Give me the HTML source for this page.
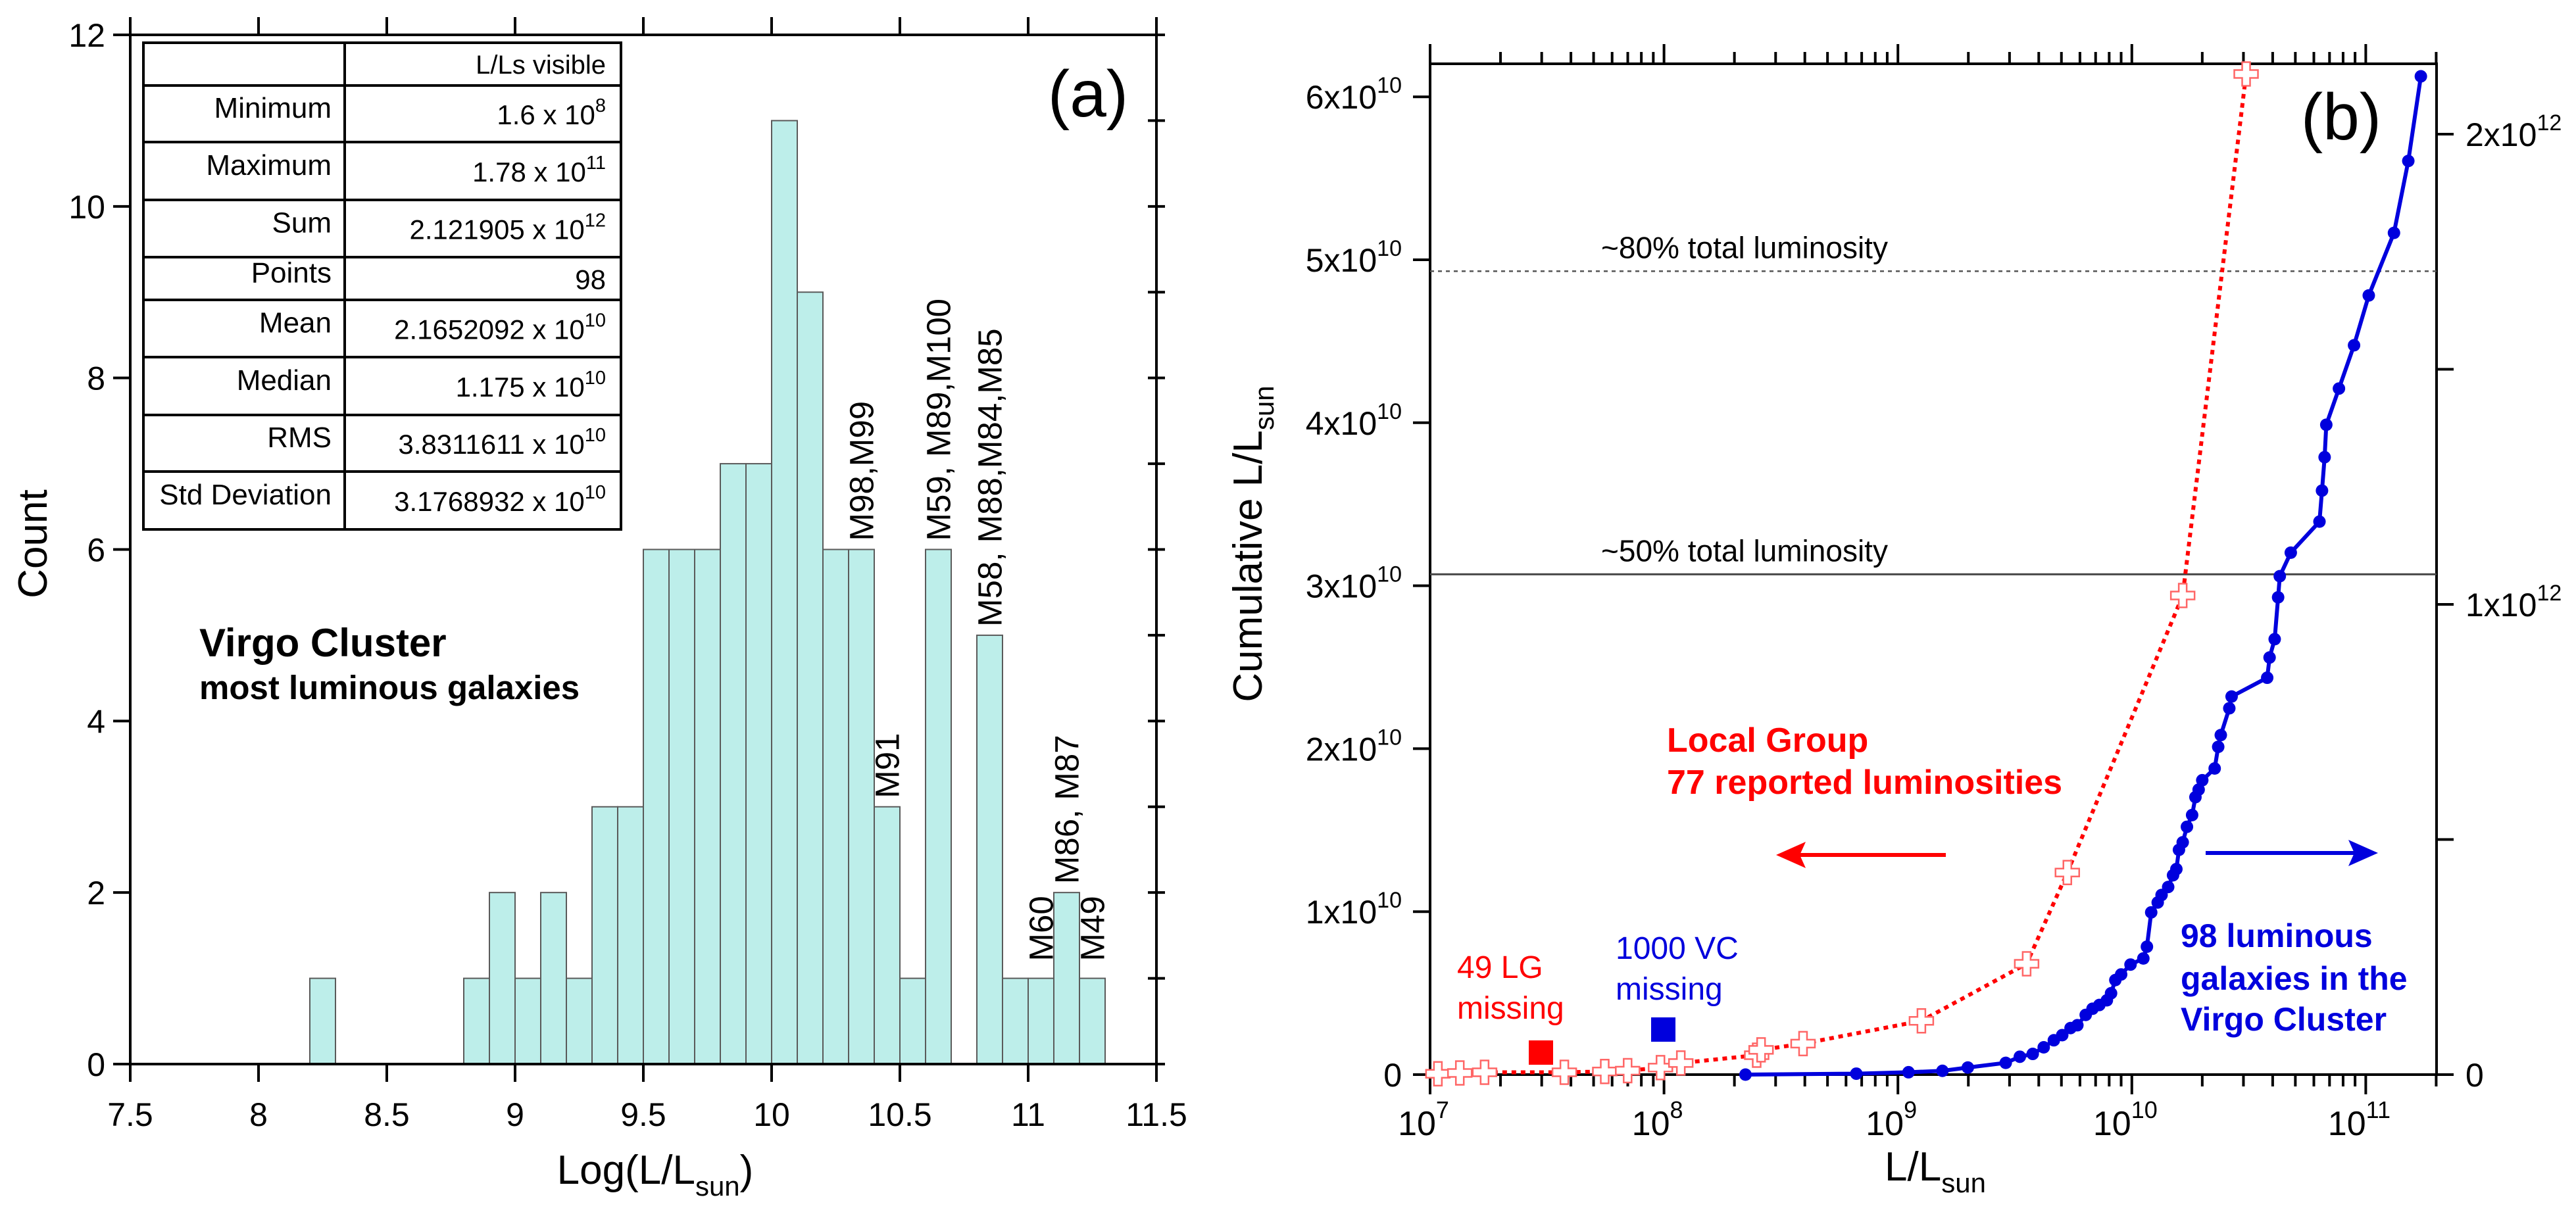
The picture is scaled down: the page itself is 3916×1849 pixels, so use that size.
<!DOCTYPE html>
<html><head><meta charset="utf-8"><style>
html,body{margin:0;padding:0;background:#fff;}
svg{display:block;font-family:"Liberation Sans",Arial,sans-serif;}
</style></head><body>
<svg id="fig" width="3916" height="1849" viewBox="0 0 3916 1849" xmlns="http://www.w3.org/2000/svg">
<g id="pa"></g>
<g id="pb"></g>
</svg>
<script>
// ---- Panel (a) data ----
const binStarts = [8.2,8.8,8.9,9.0,9.1,9.2,9.3,9.4,9.5,9.6,9.7,9.8,9.9,10.0,10.1,10.2,10.3,10.4,10.5,10.6,10.8,10.9,11.0,11.1,11.2];
const binCounts = [1,1,2,1,2,1,3,3,6,6,6,7,7,11,9,6,6,3,1,6,5,1,1,2,1];
const xTicksA = [7.5,8,8.5,9,9.5,10,10.5,11,11.5];
const yTicksA = [0,2,4,6,8,10,12];
const tableLabels = ["Minimum","Maximum","Sum","Points","Mean","Median","RMS","Std Deviation"];
const tableMant = ["1.6 x 10","1.78 x 10","2.121905 x 10","98","2.1652092 x 10","1.175 x 10","3.8311611 x 10","3.1768932 x 10"];
const tableExp = ["8","11","12","","10","10","10","10"];
const galaxyLabels = ["M98,M99","M59, M89,M100","M58, M88,M84,M85","M91","M60","M86, M87","M49"];
const galaxyLabelX = [10.35,10.65,10.85,10.45,11.05,11.15,11.25];
const galaxyLabelY = [6.1,6.1,5.1,3.1,1.2,2.1,1.2];

// ---- Panel (b) data ----
const lgL = [1.08e7,1.34e7,1.71e7,3.75e7,5.58e7,6.99e7,9.66e7,1.18e8,2.49e8,2.6e8,3.93e8,1.26e9,3.55e9,5.3e9,1.65e10,3.08e10];
const lgCum = [0.005,0.01,0.014,0.014,0.019,0.024,0.043,0.071,0.119,0.152,0.19,0.33,0.68,1.24,2.94,6.14]; // x1e10
const vcL = [2.23e8,6.64e8,1.11e9,1.55e9,1.99e9,2.89e9,3.32e9,3.77e9,4.2e9,4.64e9,5.04e9,5.47e9,5.85e9,6.35e9,6.79e9,7.26e9,7.82e9,8.15e9,8.5e9,9.0e9,9.87e9,1.12e10,1.16e10,1.21e10,1.29e10,1.34e10,1.43e10,1.5e10,1.55e10,1.59e10,1.65e10,1.72e10,1.81e10,1.87e10,1.93e10,2.0e10,2.26e10,2.34e10,2.4e10,2.61e10,2.67e10,3.79e10,3.88e10,4.08e10,4.22e10,4.29e10,4.78e10,6.34e10,6.5e10,6.67e10,6.78e10,7.68e10,8.91e10,1.03e11,1.32e11,1.52e11,1.72e11];
const vcCum = [0,0.002,0.005,0.008,0.015,0.025,0.038,0.044,0.058,0.073,0.084,0.099,0.105,0.127,0.14,0.148,0.158,0.173,0.201,0.213,0.234,0.247,0.272,0.345,0.366,0.382,0.399,0.424,0.437,0.478,0.494,0.527,0.552,0.59,0.606,0.626,0.651,0.697,0.722,0.779,0.804,0.844,0.887,0.926,1.015,1.06,1.11,1.176,1.242,1.313,1.382,1.459,1.551,1.657,1.79,1.943,2.123]; // x1e12
const yTicksBL = [0,1,2,3,4,5,6];
const yTicksBR = [0,1,2];
const xDecades = [7,8,9,10,11];
const refLevels = [4.93,3.07]; // x1e10
const refNames = ["~80% total luminosity","~50% total luminosity"];

const NS="http://www.w3.org/2000/svg";
function mk(parent,tag,attrs,text){const e=document.createElementNS(NS,tag);for(const k in attrs)e.setAttribute(k,attrs[k]);if(text!==undefined)e.textContent=text;parent.appendChild(e);return e;}

// ===== Panel A =====
const pa=document.getElementById('pa');
const AX0=198,AX1=1758,AY0=1618,AY1=53;
const ax=v=>AX0+(v-7.5)*(AX1-AX0)/4;
const ay=v=>AY0-v*(AY0-AY1)/12;
binStarts.forEach((b,i)=>{
  const r=mk(pa,'rect',{x:ax(b),y:ay(binCounts[i]),width:ax(b+0.1)-ax(b),height:AY0-ay(binCounts[i]),fill:'#bdeeea',stroke:'#5a5a5a','stroke-width':2});
  
  
});
mk(pa,'rect',{x:AX0,y:AY1,width:AX1-AX0,height:AY0-AY1,fill:'none',stroke:'#000','stroke-width':4,});
xTicksA.forEach(t=>{
  mk(pa,'line',{x1:ax(t),x2:ax(t),y1:AY0,y2:AY0+27,stroke:'#000','stroke-width':4});
  mk(pa,'line',{x1:ax(t),x2:ax(t),y1:AY1,y2:AY1-27,stroke:'#000','stroke-width':4});
  const tl=mk(pa,'text',{x:ax(t),y:1712,'font-size':50,'text-anchor':'middle'},String(t));
  
  
});
for(let v=0;v<=12;v++){
  mk(pa,'line',{x1:AX1-13,x2:AX1+13,y1:ay(v),y2:ay(v),stroke:'#000','stroke-width':4});
}
yTicksA.forEach(t=>{
  mk(pa,'line',{x1:AX0-26,x2:AX0,y1:ay(t),y2:ay(t),stroke:'#000','stroke-width':4});
  const tl=mk(pa,'text',{x:160,y:ay(t)+18,'font-size':50,'text-anchor':'end'},String(t));
  
  
});
// axis titles
const xt=mk(pa,'text',{x:996,y:1800,'font-size':62,'text-anchor':'middle',});
xt.innerHTML='Log(L/L<tspan font-size="42" dy="18">sun</tspan><tspan dy="-18">)</tspan>';
mk(pa,'text',{x:0,y:0,'font-size':62,'text-anchor':'middle',transform:'translate(71,827) rotate(-90)',},'Count');
mk(pa,'text',{x:1654,y:177,'font-size':100,'text-anchor':'middle',},'(a)');
mk(pa,'text',{x:303,y:998,'font-size':60,'font-weight':'bold',},'Virgo Cluster');
mk(pa,'text',{x:303,y:1063,'font-size':51,'font-weight':'bold',},'most luminous galaxies');
galaxyLabels.forEach((g,i)=>{
  const t=mk(pa,'text',{x:0,y:0,'font-size':51,transform:`translate(${ax(galaxyLabelX[i])+18},${ay(galaxyLabelY[i])}) rotate(-90)`},g);
  
  
});
// stats table
const rowsY=[65,130,216,304,391,456,543,631,717,805];
const tb=mk(pa,'g',{});
mk(tb,'rect',{x:218,y:65,width:726,height:740,fill:'#fff',stroke:'#000','stroke-width':4});
mk(tb,'line',{x1:524,x2:524,y1:65,y2:805,stroke:'#000','stroke-width':4});
rowsY.slice(1,-1).forEach(y=>mk(tb,'line',{x1:218,x2:944,y1:y,y2:y,stroke:'#000','stroke-width':4}));
mk(tb,'text',{x:921,y:112,'font-size':40,'text-anchor':'end'},'L/Ls visible');
tableLabels.forEach((l,i)=>{
  const yc=(rowsY[i+1]+rowsY[i+2])/2;
  mk(tb,'text',{x:504,y:yc+6,'font-size':44,'text-anchor':'end'},l);
  const v=mk(tb,'text',{x:921,y:yc+16,'font-size':42,'text-anchor':'end'});
  v.textContent=tableMant[i];
  if(tableExp[i]){mk(v,'tspan',{'font-size':29,dy:-19},tableExp[i]);}
});

// ===== Panel B =====
const pb=document.getElementById('pb');
const BX0=2174,BX1=3704,BY0=1634,BY1=97,DEC=355.6;
const bx=L=>BX0+(Math.log10(L)-7)*DEC;
const byL=v=>BY0-v*247.8;   // v in 1e10
const byR=v=>BY0-v*715;     // v in 1e12
mk(pb,'rect',{x:BX0,y:BY1,width:BX1-BX0,height:BY0-BY1,fill:'none',stroke:'#000','stroke-width':4,});
for(let d=7;d<=11;d++){
  for(let m=1;m<=9;m++){
    const x=bx(m*Math.pow(10,d));
    if(x>BX1+1)continue;
    const len=m===1?30:18;
    mk(pb,'line',{x1:x,x2:x,y1:BY0,y2:BY0+len,stroke:'#000','stroke-width':4});
    mk(pb,'line',{x1:x,x2:x,y1:BY1,y2:BY1-len,stroke:'#000','stroke-width':4});
  }
}
xDecades.forEach(d=>{
  const t=mk(pb,'text',{x:bx(Math.pow(10,d))-10,y:1726,'font-size':52,'text-anchor':'middle'});
  
  
  t.textContent='10';
  mk(t,'tspan',{'font-size':36,dy:-26},String(d));
});
yTicksBL.forEach(v=>{
  mk(pb,'line',{x1:BX0-26,x2:BX0,y1:byL(v),y2:byL(v),stroke:'#000','stroke-width':4});
  const t=mk(pb,'text',{x:2131,y:byL(v)+18,'font-size':50,'text-anchor':'end'});
  
  
  if(v===0){t.textContent='0';}
  else{t.textContent=v+'x10';mk(t,'tspan',{'font-size':34,dy:-24},'10');}
});
for(let v=0;v<=2.0001;v+=0.5){
  mk(pb,'line',{x1:BX1,x2:BX1+26,y1:byR(v),y2:byR(v),stroke:'#000','stroke-width':4});
}
yTicksBR.forEach(v=>{
  const t=mk(pb,'text',{x:3748,y:byR(v)+18,'font-size':50});
  
  
  if(v===0){t.textContent='0';}
  else{t.textContent=v+'x10';mk(t,'tspan',{'font-size':34,dy:-24},'12');}
});
refLevels.forEach((lv,i)=>{
  const ln=mk(pb,'line',{x1:BX0,x2:BX1,y1:byL(lv),y2:byL(lv),stroke:i===0?'#555':'#444','stroke-width':i===0?2.5:3,'stroke-dasharray':i===0?'6 6':'none'});
  
  
  const t=mk(pb,'text',{x:2434,y:byL(lv)-20,'font-size':46},refNames[i]);
  
  
});
const xtb=mk(pb,'text',{x:2942,y:1795,'font-size':62,'text-anchor':'middle',});
xtb.innerHTML='L/L<tspan font-size="42" dy="18">sun</tspan>';
const ytb=mk(pb,'text',{x:0,y:0,'font-size':62,'text-anchor':'middle',transform:'translate(1918,827) rotate(-90)',});
ytb.innerHTML='Cumulative L/L<tspan font-size="42" dy="18">sun</tspan>';
mk(pb,'text',{x:3559,y:212,'font-size':100,'text-anchor':'middle',},'(b)');
const redPts=lgL.map((L,i)=>bx(L)+','+byL(lgCum[i])).join(' ');
mk(pb,'polyline',{points:redPts,fill:'none',stroke:'#f00','stroke-width':6,'stroke-dasharray':'7 7',});
lgL.forEach((L,i)=>{
  const cx=bx(L),cy=byL(lgCum[i]),a=18,w=6;
  const p=`M${cx-w},${cy-a}h${2*w}v${a-w}h${a-w}v${2*w}h${-(a-w)}v${a-w}h${-2*w}v${-(a-w)}h${-(a-w)}v${-2*w}h${a-w}z`;
  const c=mk(pb,'path',{d:p,fill:'#fff',stroke:'#ff6666','stroke-width':2.5});
  
  
});
const bluePts=vcL.map((L,i)=>bx(L)+','+byR(vcCum[i])).join(' ');
mk(pb,'polyline',{points:bluePts,fill:'none',stroke:'#0000dd','stroke-width':6,'stroke-linejoin':'round',});
vcL.forEach((L,i)=>{
  const c=mk(pb,'circle',{cx:bx(L),cy:byR(vcCum[i]),r:9.5,fill:'#0000dd'});
  
  
});
mk(pb,'text',{x:2534,y:1143,'font-size':52,'font-weight':'bold',fill:'#f00',},'Local Group');
mk(pb,'text',{x:2534,y:1207,'font-size':52,'font-weight':'bold',fill:'#f00',},'77 reported luminosities');
mk(pb,'line',{x1:2958,x2:2730,y1:1300,y2:1300,stroke:'#f00','stroke-width':6,});
mk(pb,'path',{d:'M2700,1300 L2745,1280 L2736,1300 L2745,1320 Z',fill:'#f00'});
mk(pb,'line',{x1:3353,x2:3585,y1:1297,y2:1297,stroke:'#0000dd','stroke-width':6,});
mk(pb,'path',{d:'M3615,1297 L3570,1277 L3579,1297 L3570,1317 Z',fill:'#0000dd'});
['98 luminous','galaxies in the','Virgo Cluster'].forEach((s,i)=>{
  const t=mk(pb,'text',{x:3315,y:[1440,1505,1567][i],'font-size':50,'font-weight':'bold',fill:'#0000dd'},s);
  
  
});
mk(pb,'text',{x:2215,y:1487,'font-size':48,fill:'#f00',},'49 LG');
mk(pb,'text',{x:2215,y:1549,'font-size':48,fill:'#f00'},'missing');
mk(pb,'rect',{x:2324,y:1582,width:37,height:37,fill:'#f00',});
mk(pb,'text',{x:2456,y:1458,'font-size':48,fill:'#0000dd',},'1000 VC');
mk(pb,'text',{x:2456,y:1520,'font-size':48,fill:'#0000dd'},'missing');
mk(pb,'rect',{x:2510,y:1547,width:37,height:37,fill:'#0000dd',});
</script>
</body></html>
